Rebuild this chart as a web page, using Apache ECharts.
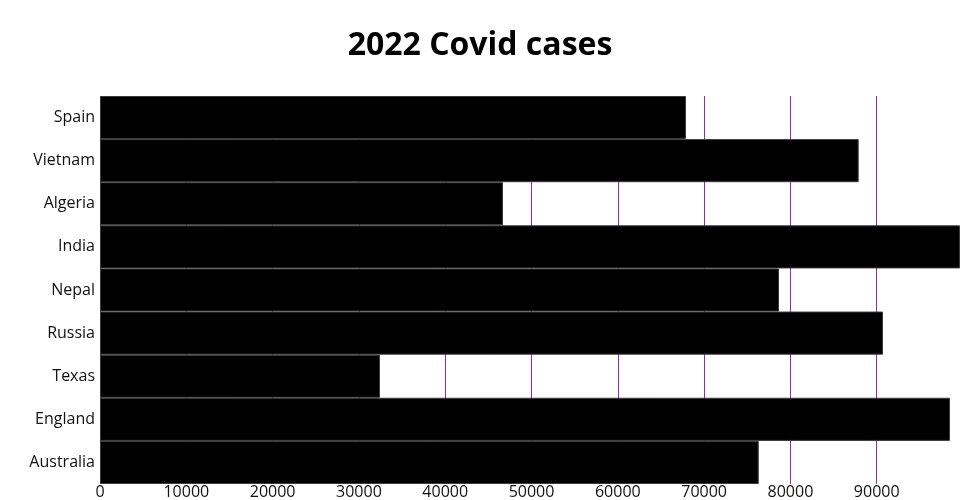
<!DOCTYPE html>
<html>
<head>
<meta charset="utf-8">
<script src="https://cdn.jsdelivr.net/npm/echarts@6/dist/echarts.min.js"></script>
<style>html,body{margin:0;padding:0;background:#fff}#c{width:960px;height:500px}</style>
</head>
<body>
<div id="c"></div>
<script>
var categories = ['Australia', 'England', 'Texas', 'Russia', 'Nepal', 'India', 'Algeria', 'Vietnam', 'Spain'];
var cases = [76330, 98490, 32440, 90730, 78680, 99650, 46700, 87910, 67900];
var chart = echarts.init(document.getElementById('c'));
chart.setOption({
  animation: false,
  title: {
    text: '2022 Covid cases', left: 'center', top: 25,
    textStyle: { fontFamily: 'Open Sans', fontWeight: 'bold', fontSize: 32, color: '#000' }
  },
  grid: { left: 100, right: 0, top: 96, bottom: 15, containLabel: false },
  xAxis: {
    type: 'value', min: 0, max: 'dataMax', interval: 10000,
    axisLine: { show: false }, axisTick: { show: false },
    axisLabel: { showMaxLabel: false, fontFamily: 'Open Sans', fontSize: 16, color: '#111', margin: 0,
      formatter: function (v) { return String(v); } },
    splitLine: { show: true, lineStyle: { color: '#9b27af', width: 1 } }
  },
  yAxis: {
    type: 'category', data: categories,
    axisLine: { show: false }, axisTick: { show: false },
    axisLabel: { fontFamily: 'Open Sans', fontSize: 16, color: '#111', margin: 5 }
  },
  series: [{
    type: 'bar', data: cases, barCategoryGap: 0,
    itemStyle: { color: '#000', borderColor: '#3a3a3a', borderWidth: 1 }
  }]
});
</script>
</body>
</html>
